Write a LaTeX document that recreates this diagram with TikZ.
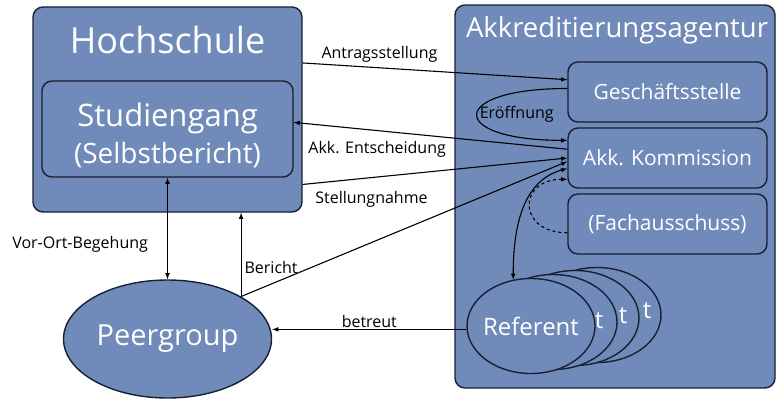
\documentclass[tikz,border=0pt]{standalone}
\usepackage{fontspec}
\setmainfont{Open Sans}
\usetikzlibrary{shapes.geometric}
\definecolor{boxblue}{RGB}{112,138,186}
\definecolor{boxline}{RGB}{25,32,50}

\begin{document}
\begin{tikzpicture}[x=1pt, y=-1pt, >=latex, line width=1.1pt,
  box/.style={draw=boxline, fill=boxblue, rounded corners=10pt, line width=1.4pt, inner sep=0pt},
  subbox/.style={box, minimum width=199pt, minimum height=60pt, text=white, font=\fontsize{21}{24}\selectfont},
  oval/.style={ellipse, draw=boxline, fill=boxblue, line width=1.4pt, inner sep=0pt, text=white},
  refoval/.style={oval, minimum width=128pt, minimum height=95pt},
  reftext/.style={text=white, inner sep=0pt, font=\fontsize{24}{26}\selectfont},
  lbl/.style={font=\fontsize{16}{18}\selectfont, inner sep=1pt}]
  \useasboundingbox (0,0) rectangle (777,399);
  % Hochschule
  \node[box, minimum width=269pt, minimum height=205pt] (hs) at (167.5,109.5) {};
  \node[text=white, font=\fontsize{36}{40}\selectfont] (hstitle) at (167.5,40) {Hochschule};
  \node[box, minimum width=251pt, minimum height=96pt,
    label={[text=white, align=center, yshift=-6pt, font=\fontsize{28}{37}\selectfont]center:{\fontsize{31}{37}\selectfont Studiengang\\(Selbstbericht)}}] (sg) at (167.5,129) {};
  % Akkreditierungsagentur
  \node[box, minimum width=320pt, minimum height=383pt] (aa) at (615,196.5) {};
  \node[text=white, font=\fontsize{27.5}{30}\selectfont] (aatitle) at (617,30) {Akkreditierungsagentur};
  \node[subbox] (gs) at (667.5,92) {Geschäftsstelle};
  \node[subbox] (kom) at (667.5,158) {Akk. Kommission};
  \node[subbox] (fa) at (667.5,224) {(Fachausschuss)};
  % Referenten, hinten zuerst
  \foreach \i/\x/\y/\tx/\ty in {4/597/315/647/318, 3/575/318/623/323, 2/553/322/599/328} {
    \node[refoval] (ref\i) at (\x,\y) {};
    \node[reftext, anchor=base] (reft\i) at (\tx,\ty) {t};
  }
  \node[refoval, label={[reftext]center:Referent}] (ref1) at (531,326) {};
  % Peergroup
  \node[oval, minimum width=208pt, minimum height=118pt, font=\fontsize{29}{32}\selectfont] (peer) at (167.5,339) {Peergroup};

  % Verbindungen
  \draw[->] (hs.19) -- (gs.173) node[lbl, pos=0.29, above=4pt] {Antragsstellung};
  \draw[->] (kom.175) -- (sg.3) node[lbl, pos=0.695, below=9pt] {Akk. Entscheidung};
  \draw[->] (hs.-29) -- (kom.west) node[lbl, pos=0.26, below=12pt] {Stellungnahme};
  \draw[->] (peer.30) -- (kom.182);
  \draw[->] (peer.30) -- (peer.30 |- hs.south) node[lbl, pos=0.35, right=2pt] {Bericht};
  \draw[<->] (sg.south) -- (peer.north) node[lbl, pos=0.66, left=18pt] {Vor-Ort-Begehung};
  \draw[->] (ref1.183) -- (ref1.183 -| peer.east) node[lbl, midway, above] {betreut};
  \draw[->] (gs.178) to[out=180, in=180, out distance=120, in distance=120] node[lbl, midway, right=1pt] {Eröffnung} (kom.170);
  \draw[->, dash pattern=on 3pt off 3pt] (fa.185) to[out=180, in=180, out distance=50, in distance=50] (kom.192);
  \draw[<->] (ref1.111) to[out=90, in=195] (kom.186);
\end{tikzpicture}
\end{document}
